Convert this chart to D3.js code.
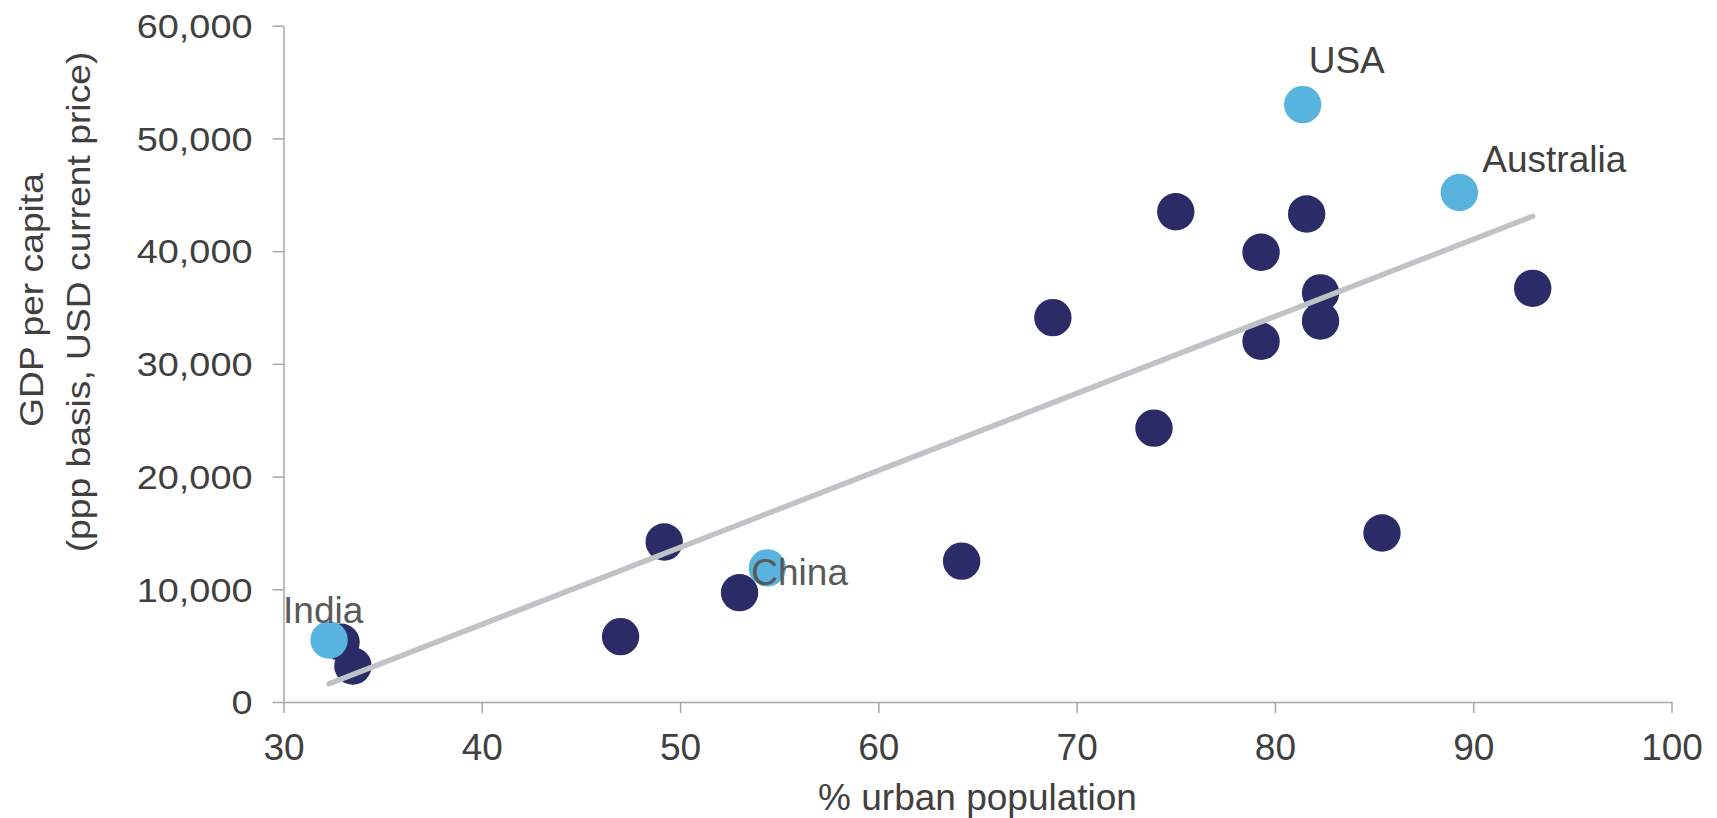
<!DOCTYPE html>
<html>
<head>
<meta charset="utf-8">
<script src="https://cdn.jsdelivr.net/npm/d3@7"></script>
<style>
  html, body { margin: 0; padding: 0; background: #fff; }
  svg { display: block; font-family: "Liberation Sans", Arial, Helvetica, sans-serif; }
</style>
</head>
<body>
<svg id="chart" width="1717" height="818"></svg>
<script>
// Urban share of population (%) and GDP per capita (PPP, current USD) by country
const countries = ["India", "", "", "", "", "", "China", "", "", "", "", "", "", "USA", "", "", "", "Australia", "", ""];
const urbanPct = [32.3, 32.9, 33.5, 47.0, 49.2, 53.0, 54.4, 64.2, 68.8, 73.9, 75.0, 79.3, 79.3, 81.4, 81.6, 82.3, 82.3, 89.3, 85.4, 93.0];
const gdpPerCapita = [5500, 5300, 3200, 5800, 14200, 9700, 11900, 12500, 34100, 24300, 43500, 39900, 32000, 53000, 43300, 36300, 33800, 45200, 15000, 36700];
const highlighted = ["India", "China", "USA", "Australia"];

const xTicks = [30, 40, 50, 60, 70, 80, 90, 100];
const yTicks = [0, 10000, 20000, 30000, 40000, 50000, 60000];

const xTitle = "% urban population";
const yTitleLines = ["GDP per capita", "(ppp basis, USD current price)"];

// label placement relative to its point (px)
const labelOffsets = {
  "USA": [6, -32],
  "Australia": [23, -21],
  "India": [-46, -17],
  "China": [-16, 17]
};

const points = urbanPct.map((u, i) => ({ name: countries[i], x: u, y: gdpPerCapita[i] }));

const svg = d3.select("#chart");
const x = d3.scaleLinear().domain([30, 100]).range([283.5, 1671.5]);
const y = d3.scaleLinear().domain([0, 60000]).range([702, 25.7]);

const axisColor = "#a6a6a6";
const textColor = "#404040";

// x axis
const gx = svg.append("g")
  .attr("transform", `translate(0,${y(0)})`)
  .call(d3.axisBottom(x).tickValues(xTicks).tickSize(11).tickSizeOuter(0).tickFormat(d3.format("d")));
gx.select(".domain").attr("stroke", axisColor).attr("stroke-width", 1.5);
gx.selectAll(".tick line").attr("stroke", axisColor).attr("stroke-width", 1.5);
gx.selectAll(".tick text")
  .attr("y", 58).attr("dy", 0)
  .attr("fill", textColor)
  .attr("font-size", 37)
  .attr("font-family", null);

// y axis
const gy = svg.append("g")
  .attr("transform", `translate(${x(30)},0)`)
  .call(d3.axisLeft(y).tickValues(yTicks).tickSize(11).tickSizeOuter(0).tickFormat(d3.format(",")));
gy.select(".domain").attr("stroke", axisColor).attr("stroke-width", 1.5);
gy.selectAll(".tick line").attr("stroke", axisColor).attr("stroke-width", 1.5);
gy.selectAll(".tick text")
  .attr("x", 0).attr("dy", 0)
  .attr("transform", "translate(-31,11.8) scale(1.13,1)")
  .attr("text-anchor", "end")
  .attr("fill", textColor)
  .attr("font-size", 33.5)
  .attr("font-family", null);

// axis titles
svg.append("text")
  .attr("x", x(65)).attr("y", 810)
  .attr("text-anchor", "middle")
  .attr("fill", textColor)
  .attr("font-size", 37)
  .text(xTitle);

const yTitlePos = [[43.3, 300], [90, 302]];
svg.append("g").selectAll("text")
  .data(yTitleLines)
  .join("text")
  .attr("transform", (d, i) => `translate(${yTitlePos[i][0]},${yTitlePos[i][1]}) rotate(-90) scale(1.146,1)`)
  .attr("text-anchor", "middle")
  .attr("fill", textColor)
  .attr("font-size", 32.5)
  .text(d => d);

// least-squares trend line over the data range
const mx = d3.mean(urbanPct), my = d3.mean(gdpPerCapita);
const slope = d3.sum(urbanPct, (u, i) => (u - mx) * (gdpPerCapita[i] - my)) / d3.sum(urbanPct, u => (u - mx) ** 2);
const intercept = my - slope * mx;
const [xmin, xmax] = d3.extent(urbanPct);
const trend = [xmin, xmax].map(u => [u, intercept + slope * u]);

// dark points first, highlighted ones on top
const isHi = d => highlighted.includes(d.name);

svg.append("g").selectAll("circle")
  .data(points.filter(d => !isHi(d)))
  .join("circle")
  .attr("cx", d => x(d.x)).attr("cy", d => y(d.y)).attr("r", 18.7)
  .attr("fill", "#2a2b67");

svg.append("path")
  .datum(trend)
  .attr("d", d3.line().x(d => x(d[0])).y(d => y(d[1])))
  .attr("fill", "none")
  .attr("stroke", "#bfc3c6")
  .attr("stroke-width", 5.5)
  .attr("stroke-linecap", "round");

svg.append("g").selectAll("circle")
  .data(points.filter(isHi))
  .join("circle")
  .attr("cx", d => x(d.x)).attr("cy", d => y(d.y)).attr("r", 18.7)
  .attr("fill", "#59b3df");

svg.append("g").selectAll("text")
  .data(points.filter(isHi))
  .join("text")
  .attr("x", d => x(d.x) + labelOffsets[d.name][0])
  .attr("y", d => y(d.y) + labelOffsets[d.name][1])
  .attr("fill", d => (d.name === "India" || d.name === "China") ? "#595959" : textColor)
  .attr("font-size", 37)
  .text(d => d.name);
</script>
</body>
</html>
